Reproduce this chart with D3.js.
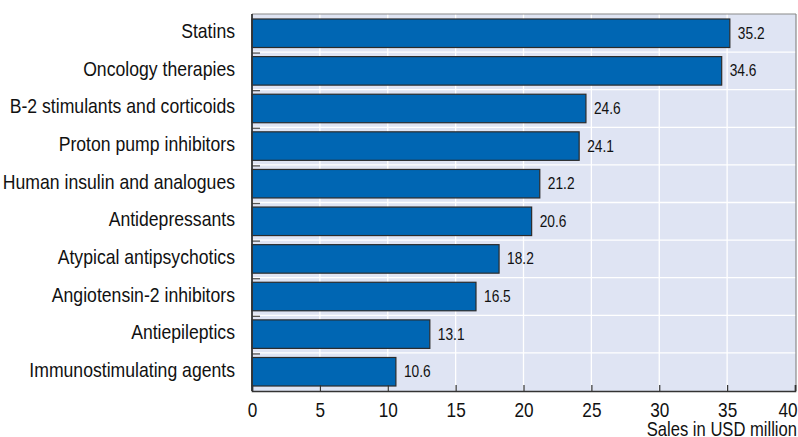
<!DOCTYPE html>
<html>
<head>
<meta charset="utf-8">
<script src="https://cdn.jsdelivr.net/npm/d3@7"></script>
<style>
  html, body { margin: 0; padding: 0; background: #fff; }
  svg { display: block; font-family: "Liberation Sans", Arial, sans-serif; }
</style>
</head>
<body>
<svg id="chart" width="798" height="437"></svg>
<script>
// Therapeutic classes, top to bottom
const categories = [
  "Statins",
  "Oncology therapies",
  "B-2 stimulants and corticoids",
  "Proton pump inhibitors",
  "Human insulin and analogues",
  "Antidepressants",
  "Atypical antipsychotics",
  "Angiotensin-2 inhibitors",
  "Antiepileptics",
  "Immunostimulating agents"
];
// Sales in USD million
const sales = [35.2, 34.6, 24.6, 24.1, 21.2, 20.6, 18.2, 16.5, 13.1, 10.6];
const xTicks = [0, 5, 10, 15, 20, 25, 30, 35, 40];
const axisTitle = "Sales in USD million";

const svg = d3.select("#chart");
const W = 798, H = 437;
const margin = { left: 252, right: 2, top: 14, bottom: 46 };
const plotW = W - margin.left - margin.right;
const plotH = H - margin.top - margin.bottom;

// condensed lettering: horizontally squeezed text
const narrow = 0.86;

const x = d3.scaleLinear().domain([0, 40]).range([0, plotW - 1]);
const y = d3.scaleBand().domain(categories).range([0, plotH])
  .paddingInner(0.242).paddingOuter(0.133);
const gap = y.step() * y.paddingInner();
const bounds = categories.slice(1).map(c => y(c) - gap / 2);

const g = svg.append("g").attr("transform", `translate(${margin.left},${margin.top})`);

// plot background
g.append("rect").attr("x", 0).attr("y", 0).attr("width", plotW).attr("height", plotH)
  .attr("fill", "#dfe4f3");

// vertical gridlines
g.append("g").selectAll("line").data(xTicks.slice(1, -1)).join("line")
  .attr("x1", d => x(d)).attr("x2", d => x(d))
  .attr("y1", 0).attr("y2", plotH)
  .attr("stroke", "#fff").attr("stroke-width", 1.3);

// horizontal gridlines between categories
g.append("g").selectAll("line").data(bounds).join("line")
  .attr("x1", 0).attr("x2", plotW)
  .attr("y1", d => d).attr("y2", d => d)
  .attr("stroke", "#fff").attr("stroke-width", 1.3);

// bars
g.append("g").selectAll("rect").data(sales).join("rect")
  .attr("x", x(0))
  .attr("y", (d, i) => y(categories[i]))
  .attr("width", d => x(d))
  .attr("height", y.bandwidth())
  .attr("fill", "#0066b3")
  .attr("stroke", "#2b2b2b")
  .attr("stroke-width", 1.2);

// value labels
g.append("g").selectAll("text").data(sales).join("text")
  .attr("transform", (d, i) =>
    `translate(${x(d) + 8},${y(categories[i]) + y.bandwidth() / 2 + 5.5}) scale(${narrow},1)`)
  .attr("font-size", 16)
  .attr("fill", "#111")
  .text(d => d.toFixed(1));

// y ticks (inward, between categories)
g.append("g").selectAll("line").data(bounds).join("line")
  .attr("x1", 0).attr("x2", 8)
  .attr("y1", d => d + 1).attr("y2", d => d + 1)
  .attr("stroke", "#555").attr("stroke-width", 1.3);

// category labels
g.append("g").selectAll("text").data(categories).join("text")
  .attr("transform", d => `translate(-17,${y(d) + y.bandwidth() / 2 + 5}) scale(${narrow},1)`)
  .attr("text-anchor", "end")
  .attr("font-size", 20.5)
  .attr("fill", "#111")
  .text(d => d);

// frame: light top/right
g.append("line").attr("x1", 0).attr("x2", plotW).attr("y1", 0).attr("y2", 0)
  .attr("stroke", "#8a8a8a").attr("stroke-width", 1.2);
g.append("line").attr("x1", plotW).attr("x2", plotW).attr("y1", 0).attr("y2", plotH)
  .attr("stroke", "#8a8a8a").attr("stroke-width", 1.2);

// x axis with inward ticks
const xAxis = d3.axisBottom(x).tickValues(xTicks).tickSize(-6).tickPadding(0);
const ax = g.append("g").attr("transform", `translate(0,${plotH})`).call(xAxis);
ax.select(".domain").attr("stroke", "#333").attr("stroke-width", 1.6);
ax.selectAll(".tick line").attr("stroke", "#333").attr("stroke-width", 1.2);
const lastTick = xTicks[xTicks.length - 1];
ax.selectAll(".tick text")
  .attr("y", null).attr("dy", null)
  .attr("text-anchor", d => d === lastTick ? "end" : "middle")
  .attr("transform", d => `translate(${d === lastTick ? 2 : 0},26) scale(${narrow},1)`)
  .attr("font-size", 20).attr("fill", "#111")
  .attr("font-family", "Liberation Sans, Arial, sans-serif");

// dark left axis line
g.append("line").attr("x1", 0).attr("x2", 0).attr("y1", 0).attr("y2", plotH)
  .attr("stroke", "#333").attr("stroke-width", 1.8);

// axis title
svg.append("text")
  .attr("transform", `translate(${W - 1},${H - 1}) scale(0.83,1)`)
  .attr("text-anchor", "end")
  .attr("font-size", 20)
  .attr("fill", "#111")
  .text(axisTitle);
</script>
</body>
</html>
